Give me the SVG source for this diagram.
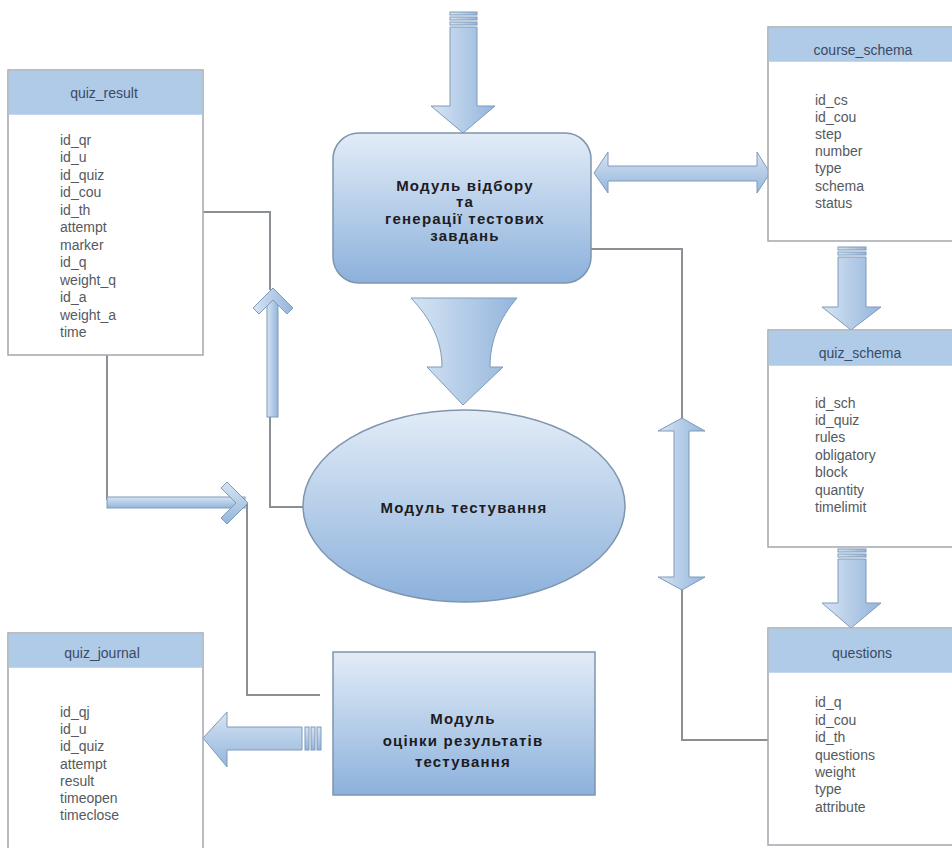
<svg xmlns="http://www.w3.org/2000/svg" width="952" height="848" viewBox="0 0 952 848">
<defs>
<linearGradient id="modGrad" x1="0" y1="0" x2="0" y2="1">
<stop offset="0" stop-color="#e2ecf7"/>
<stop offset="1" stop-color="#8cb1dc"/>
</linearGradient>
<linearGradient id="arrV" x1="0" y1="0" x2="1" y2="0">
<stop offset="0" stop-color="#d6e4f3"/>
<stop offset="1" stop-color="#94b5dc"/>
</linearGradient>
<linearGradient id="arrH" x1="0" y1="0" x2="0" y2="1">
<stop offset="0" stop-color="#d6e4f3"/>
<stop offset="1" stop-color="#94b5dc"/>
</linearGradient>
<style>
.tbl{fill:#ffffff;stroke:#a3a8ae;stroke-width:1.5}
.hdr{fill:#b0cbe7;stroke:none}
.ht{font-family:"Liberation Sans",Arial,sans-serif;font-size:14px;fill:#3a4a66;text-anchor:middle}
.ft{font-family:"Liberation Sans",Arial,sans-serif;font-size:14px;fill:#555a60}
.mod{fill:url(#modGrad);stroke:#7f95ad;stroke-width:1.5}
.mt{font-family:"Liberation Sans",Arial,sans-serif;font-size:15px;font-weight:bold;letter-spacing:1.2px;fill:#1c1c22;text-anchor:middle}
.av{fill:url(#arrV);stroke:#7e9ab9;stroke-width:1}
.ah{fill:url(#arrH);stroke:#7e9ab9;stroke-width:1}
.ln{fill:none;stroke:#8b9096;stroke-width:2}
</style>
</defs>
<rect width="952" height="848" fill="#ffffff"/>

<g id="connectors">
<polyline class="ln" points="203,212 270,212 270,290"/>
<polyline class="ln" points="270,417 270,507 304,507"/>
<polyline class="ln" points="107,355 107,500"/>
<polyline class="ln" points="247,503 247,695 320,695"/>
<polyline class="ln" points="590,249 682,249 682,420"/>
<polyline class="ln" points="682,588 682,740 768,740"/>
<!-- top input arrow -->
<rect class="av" x="450" y="12" width="27" height="3"/>
<rect class="av" x="450" y="17" width="27" height="3"/>
<rect class="av" x="450" y="22" width="27" height="3"/>
<path class="av" d="M450,27 H477 V106 H495 L463,133 L431,106 H450 Z"/>
<!-- double horizontal arrow -->
<path class="ah" d="M594,173 L608,152 V166 H757 V152 L770,173 L757,193 V181 H608 V193 Z"/>
<!-- funnel arrow -->
<path class="av" d="M411,298 H517 C500,318 490,340 490,367 H503 L463,405 L427,367 H442 C442,340 430,318 411,298 Z"/>
<!-- up arrow (quiz_result) -->
<rect class="av" x="267" y="300" width="11" height="117"/>
<path class="av" d="M273,288 L293,308 L287,314 L273,300 L259,314 L253,308 Z"/>
<!-- right arrow (to vertical line) -->
<rect class="ah" x="107" y="497" width="138" height="11"/>
<path class="ah" d="M248,503 L227,482 L221,488 L236,503 L221,518 L227,524 Z"/>
<!-- left arrow to quiz_journal -->
<path class="ah" d="M203,738 L227,712 V727 H302 V750 H227 V767 Z"/>
<rect class="ah" x="305" y="727" width="4" height="23"/>
<rect class="ah" x="311" y="727" width="4" height="23"/>
<rect class="ah" x="317" y="727" width="4" height="23"/>
<!-- vertical double arrow -->
<path class="av" d="M682,418 L705,431 H689 V577 H705 L682,590 L658,577 H674 V431 H658 Z"/>
<!-- course_schema -> quiz_schema -->
<rect class="av" x="838" y="247" width="28" height="3"/>
<rect class="av" x="838" y="252" width="28" height="3"/>
<path class="av" d="M838,257 H866 V307 H881 L851,330 L822,307 H838 Z"/>
<!-- quiz_schema -> questions -->
<rect class="av" x="838" y="549" width="28" height="3"/>
<rect class="av" x="838" y="554" width="28" height="3"/>
<path class="av" d="M838,559 H866 V603 H881 L851,628 L822,603 H838 Z"/>
</g>

<g id="quiz_result">
<rect class="tbl" x="8" y="70" width="195" height="285"/>
<rect class="hdr" x="8.75" y="70.75" width="193.5" height="44"/>
<text class="ht" x="104" y="98">quiz_result</text>
<text class="ft" x="60" y="145">id_qr</text>
<text class="ft" x="60" y="162">id_u</text>
<text class="ft" x="60" y="180">id_quiz</text>
<text class="ft" x="60" y="197">id_cou</text>
<text class="ft" x="60" y="215">id_th</text>
<text class="ft" x="60" y="232">attempt</text>
<text class="ft" x="60" y="250">marker</text>
<text class="ft" x="60" y="267">id_q</text>
<text class="ft" x="60" y="285">weight_q</text>
<text class="ft" x="60" y="302">id_a</text>
<text class="ft" x="60" y="320">weight_a</text>
<text class="ft" x="60" y="337">time</text>
</g>

<g id="course_schema">
<rect class="tbl" x="768" y="27" width="190" height="214"/>
<rect class="hdr" x="768.75" y="27.75" width="188" height="34"/>
<text class="ht" x="863" y="55">course_schema</text>
<text class="ft" x="815" y="105">id_cs</text>
<text class="ft" x="815" y="122">id_cou</text>
<text class="ft" x="815" y="139">step</text>
<text class="ft" x="815" y="156">number</text>
<text class="ft" x="815" y="173">type</text>
<text class="ft" x="815" y="191">schema</text>
<text class="ft" x="815" y="208">status</text>
</g>

<g id="quiz_schema">
<rect class="tbl" x="768" y="330" width="190" height="217"/>
<rect class="hdr" x="768.75" y="330.75" width="188" height="35"/>
<text class="ht" x="860" y="358">quiz_schema</text>
<text class="ft" x="815" y="408">id_sch</text>
<text class="ft" x="815" y="425">id_quiz</text>
<text class="ft" x="815" y="442">rules</text>
<text class="ft" x="815" y="460">obligatory</text>
<text class="ft" x="815" y="477">block</text>
<text class="ft" x="815" y="495">quantity</text>
<text class="ft" x="815" y="512">timelimit</text>
</g>

<g id="questions">
<rect class="tbl" x="768" y="628" width="190" height="217"/>
<rect class="hdr" x="768.75" y="628.75" width="188" height="44"/>
<text class="ht" x="862" y="658">questions</text>
<text class="ft" x="815" y="707">id_q</text>
<text class="ft" x="815" y="725">id_cou</text>
<text class="ft" x="815" y="742">id_th</text>
<text class="ft" x="815" y="760">questions</text>
<text class="ft" x="815" y="777">weight</text>
<text class="ft" x="815" y="794">type</text>
<text class="ft" x="815" y="812">attribute</text>
</g>

<g id="quiz_journal">
<rect class="tbl" x="8" y="633" width="195" height="225"/>
<rect class="hdr" x="8.75" y="633.75" width="193.5" height="34"/>
<text class="ht" x="102" y="658">quiz_journal</text>
<text class="ft" x="60" y="717">id_qj</text>
<text class="ft" x="60" y="734">id_u</text>
<text class="ft" x="60" y="751">id_quiz</text>
<text class="ft" x="60" y="769">attempt</text>
<text class="ft" x="60" y="786">result</text>
<text class="ft" x="60" y="803">timeopen</text>
<text class="ft" x="60" y="820">timeclose</text>
</g>

<g id="module_selection">
<rect class="mod" x="333" y="133" width="258" height="150" rx="26" ry="26"/>
<text class="mt" x="465" y="191">Модуль відбору</text>
<text class="mt" x="465" y="207">та</text>
<text class="mt" x="465" y="224">генерації тестових</text>
<text class="mt" x="465" y="241">завдань</text>
</g>

<g id="module_testing">
<ellipse class="mod" cx="464" cy="506" rx="161" ry="96"/>
<text class="mt" x="464" y="513">Модуль тестування</text>
</g>

<g id="module_evaluation">
<rect class="mod" x="333" y="652" width="262" height="143"/>
<text class="mt" x="463" y="724">Модуль</text>
<text class="mt" x="463" y="746">оцінки результатів</text>
<text class="mt" x="463" y="767">тестування</text>
</g>
</svg>
